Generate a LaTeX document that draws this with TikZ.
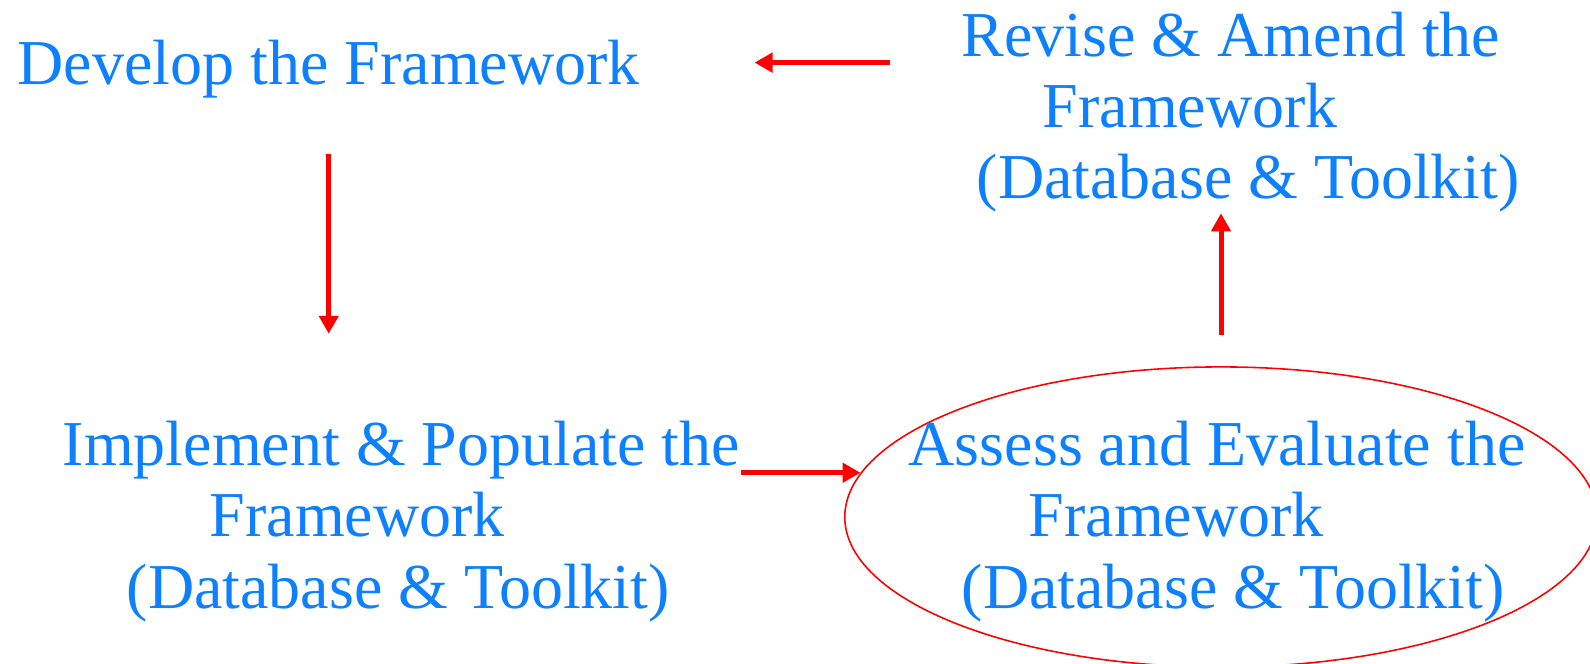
\documentclass[tikz,border=0pt]{standalone}
\usepackage{fontspec}
\setmainfont{Liberation Serif}
\usetikzlibrary{arrows.meta,shapes.geometric}
\definecolor{stageblue}{RGB}{12,128,255}

\begin{document}
\begin{tikzpicture}[x=0.01cm, y=-0.01cm,
    nodes = {font=\fontsize{18.2}{20.2}\selectfont, text=stageblue, inner sep=0pt, align=left},
    flow/.style = {red, line width=0.05cm, -{Triangle[length=0.18cm, width=0.19cm]}}]
  \useasboundingbox (0,0) rectangle (1590,664);
  % The four stages of the cycle (base = last line)
  \node[anchor=base west] (develop) at (17,85) {Develop the Framework};
  \node[anchor=base west] (revise) at (961,199) {Revise \& Amend the\\
    \hspace*{0.81cm}Framework\\
    \hspace*{0.15cm}(Database \& Toolkit)};
  \node[anchor=base west] (implement) at (62,608) {Implement \& Populate the\\
    \hspace*{1.47cm}Framework\\
    \hspace*{0.64cm}(Database \& Toolkit)};
  \node[ellipse, draw=red, line width=0.45pt, minimum width=7.52cm,
    minimum height=3cm] (ring) at (1221,517) {};
  \node[anchor=base west] (assess) at (908,608) {Assess and Evaluate the\\
    \hspace*{1.20cm}Framework\\
    \hspace*{0.53cm}(Database \& Toolkit)};
  % Arrows round the cycle
  \draw[flow, shorten <=0.55cm, shorten >=0.87cm]
    (develop.south) -- (develop.south |- implement.north);
  \draw[flow] (implement.east |- ring.173) -- (ring.173);
  \draw[flow, shorten <=0.31cm] (ring.north) -- (ring.north |- revise.south);
  \draw[flow, shorten <=0.71cm, shorten >=1.14cm]
    ([yshift=0.07cm]revise.west |- develop.east) -- ([yshift=0.07cm]develop.east);
\end{tikzpicture}
\end{document}
